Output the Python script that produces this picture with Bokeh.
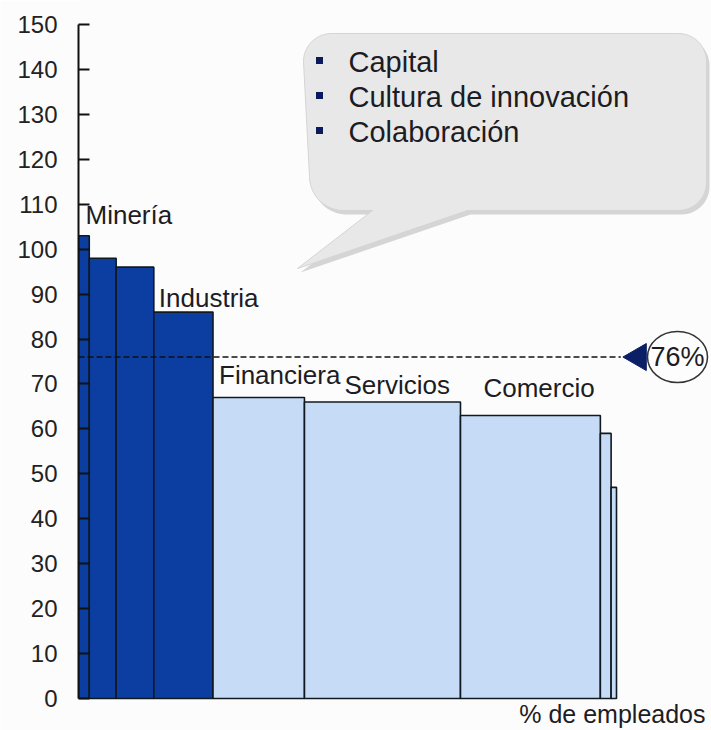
import numpy as np
from bokeh.plotting import figure
from bokeh.models import Range1d, FixedTicker, ColumnDataSource
from bokeh.core.properties import value
from bokeh.embed import file_html
from bokeh.resources import INLINE

# ---------------- data ----------------
sectors = ["Minería", "", "", "Industria", "Financiera", "Servicios", "Comercio", "", ""]
employee_share = [2, 5, 7, 11, 17, 29, 26, 2, 1]          # % de empleados (bar widths)
index_values = [103, 98, 96, 86, 67, 66, 63, 59, 47]      # bar heights
bar_group = ["alto", "alto", "alto", "alto", "bajo", "bajo", "bajo", "bajo", "bajo"]
average_value = 76
average_label = "76%"
y_ticks = [0, 10, 20, 30, 40, 50, 60, 70, 80, 90, 100, 110, 120, 130, 140, 150]
bullet_items = ["Capital", "Cultura de innovación", "Colaboración"]
x_axis_title = "% de empleados"

# ---------------- layout constants ----------------
W, H = 711, 730
LEFT = 78           # width of the y-axis panel
X_PX = 5.38         # px per % of employees
Y_PX = 4.493        # px per index unit
Y0 = 698            # canvas y of value 0
FONT = value("Liberation Sans")
DARK = "#0c3ea2"
LIGHT = "#c6dcf6"
TEXT_COL = "#1c1c24"
MID = 0.35          # middle-baseline correction (fraction of font size)

def px_x(sx):
    return (np.asarray(sx, dtype=float) - LEFT) / X_PX

def px_y(sy):
    return (Y0 - np.asarray(sy, dtype=float)) / Y_PX

p = figure(width=W, height=H, output_backend="svg", toolbar_location=None,
           x_range=Range1d(0, (W - LEFT) / X_PX),
           y_range=Range1d(-(H - Y0) / Y_PX, Y0 / Y_PX),
           x_axis_location=None, min_border_left=LEFT, min_border_right=0,
           min_border_top=0, min_border_bottom=0)
p.background_fill_color = "#fcfcfc"
p.border_fill_color = "#fcfcfc"
p.outline_line_color = None
p.grid.visible = False

# ---------------- callout bubble ----------------
def corner(cx, cy, r, a0, a1, n=14):
    a = np.radians(np.linspace(a0, a1, n))
    return list(cx + r * np.cos(a)), list(cy + r * np.sin(a))

L, T, R, B, rr = 303, 33, 706, 210, 28
bx, by = [], []
for (cx, cy, a0, a1) in [(L + rr, T + rr, 180, 270), (R - rr, T + rr, 270, 360),
                         (R - rr, B - rr, 0, 90)]:
    xs, ys = corner(cx, cy, rr, a0, a1)
    bx += xs; by += ys
bx += [467, 297, 372]; by += [B, 268, B]
xs, ys = corner(L + 40, B - 34, 34, 90, 180)
bx += xs; by += ys
bx = np.array(bx); by = np.array(by)

p.patch(px_x(bx + 3), px_y(by + 4), fill_color="#b4b4b4", fill_alpha=0.55, line_color=None)
p.patch(px_x(bx), px_y(by), fill_color="#e8e8e8", line_color="#d4d4d4", line_width=1)

BFS = 29
for i, item in enumerate(bullet_items):
    base = 72 + i * 35
    p.scatter(px_x([319]), px_y([base - 12]), marker="square", size=7,
              fill_color="#0a1a5a", line_color=None)
    p.text(px_x([348]), px_y([base - MID * BFS]), text=[item], text_font=FONT,
           text_font_size=f"{BFS}px", text_color=TEXT_COL, text_baseline="middle")

# ---------------- bars ----------------
right = np.cumsum(employee_share)
left = right - np.array(employee_share)
colors = [DARK if g == "alto" else LIGHT for g in bar_group]
src = ColumnDataSource(dict(left=left, right=right, top=index_values,
                            bottom=[0] * len(index_values), color=colors))
p.quad(left="left", right="right", top="top", bottom="bottom", source=src,
       fill_color="color", line_color="#101820", line_width=1.6)

# sector labels (pixel offsets of the text baseline from each bar's top-left corner)
LFS = 26
label_offsets = {"Minería": (7, -12), "Industria": (5, -5), "Financiera": (6, -13),
                 "Servicios": (40, -8), "Comercio": (23, -18)}
lx, ly, lt, ox, oy = [], [], [], [], []
for s, l0, v in zip(sectors, left, index_values):
    if s:
        lx.append(l0); ly.append(v); lt.append(s)
        ox.append(label_offsets[s][0]); oy.append(label_offsets[s][1] - MID * LFS)
p.text(lx, ly, text=lt, x_offset=ox, y_offset=oy, text_font=FONT,
       text_font_size=f"{LFS}px", text_color=TEXT_COL, text_baseline="middle")

# ---------------- average line & marker ----------------
p.segment(x0=[0], x1=[right[-1] + 0.8], y0=[average_value], y1=[average_value],
          line_color="#111111", line_width=1.5, line_dash="6 3")
p.scatter(px_x([638]), [average_value], marker="triangle", size=27, angle=np.pi / 2,
          fill_color="#0a1f66", line_color="#0a1f66")
p.ellipse(px_x([677]), [average_value], width=60, height=51, width_units="screen",
          height_units="screen", fill_color="#fdfdfd", line_color="#333333", line_width=1.5)
p.text(px_x([677]), [average_value], text=[average_label], text_font=FONT,
       text_font_size="27px", text_color=TEXT_COL, text_align="center",
       text_baseline="middle")

# x-axis title
XFS = 25
p.text(px_x([705]), px_y([722 - MID * XFS]), text=[x_axis_title], text_font=FONT,
       text_font_size=f"{XFS}px", text_color=TEXT_COL, text_align="right",
       text_baseline="middle")

# ---------------- y axis ----------------
ax = p.yaxis[0]
ax.ticker = FixedTicker(ticks=y_ticks)
ax.bounds = (0, 150)
ax.axis_line_color = "#111111"
ax.axis_line_width = 2
ax.major_tick_line_color = "#111111"
ax.major_tick_line_width = 2
ax.major_tick_in = 11
ax.major_tick_out = 0
ax.minor_tick_line_color = None
ax.major_label_standoff = 21
ax.major_label_text_font = "Liberation Sans"
ax.major_label_text_font_size = "24px"
ax.major_label_text_color = "#222222"

open("out.html", "w").write(file_html(p, INLINE))
